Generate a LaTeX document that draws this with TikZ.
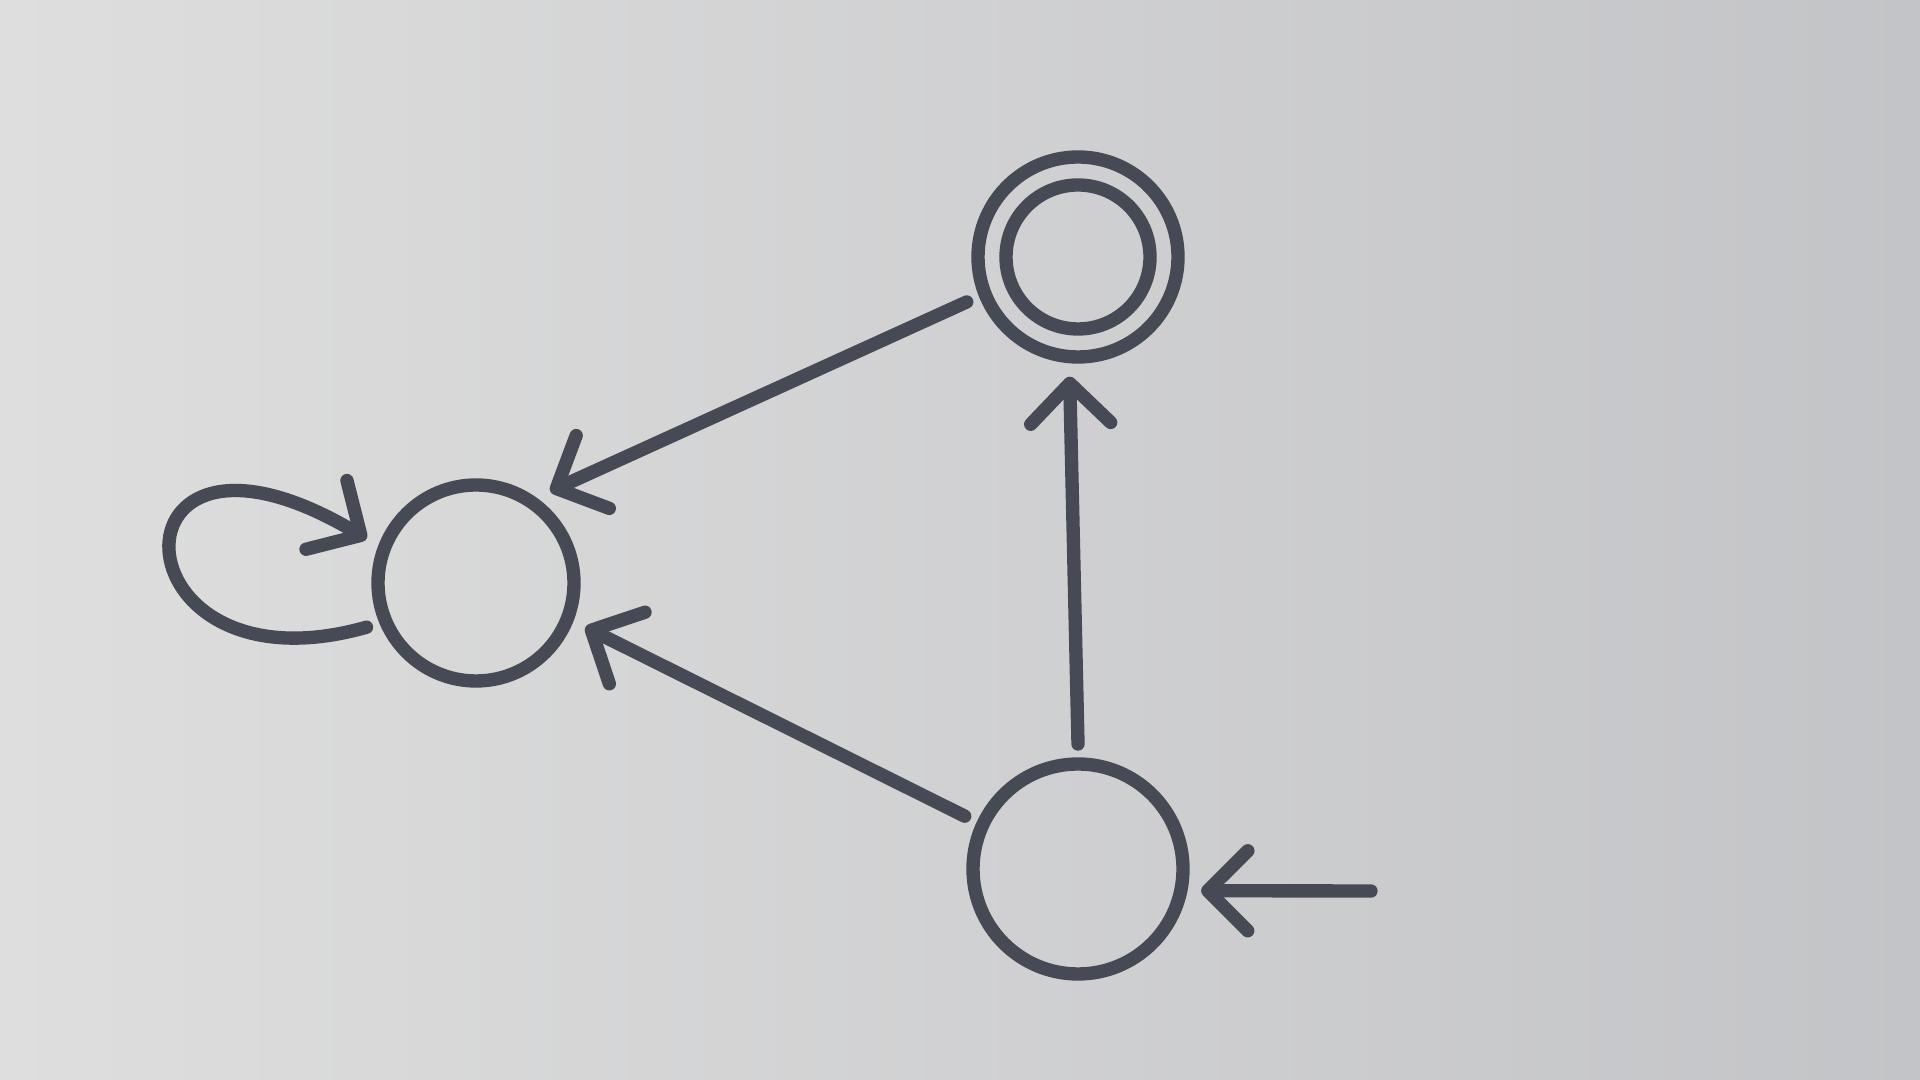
\documentclass[tikz,border=0pt]{standalone}
\usetikzlibrary{arrows.meta}
\definecolor{ink}{HTML}{464A55}
\definecolor{paperl}{HTML}{DEDEDE}
\definecolor{paperr}{HTML}{C3C4C7}
\begin{document}
\begin{tikzpicture}[line width=3.8pt,line cap=round,line join=round,draw=ink,
  state/.style={circle,draw=ink,line width=3.8pt,outer sep=0.2cm},
  arr/.style={ink,-{Straight Barb[round,length=4mm,width=8mm]}}]
\useasboundingbox (0,0) rectangle (19.2,10.8);
\shade[left color=paperl,right color=paperr] (0,0) rectangle (19.2,10.8);
\node[state,minimum size=1.96cm] (q1) at (4.76,4.97) {};
\node[state,minimum size=2cm] (q2) at (10.78,8.23) {};
\draw[ink] (q2.center) circle (0.72);
\node[state,minimum size=2.1cm] (q0) at (10.78,2.11) {};
\coordinate (in) at (13.71,1.89);
\draw[arr] (in) -- (q0.-10);
\draw[arr] (q0.90) -- (q2.266);
\draw[arr] (q0.155) -- (q1.-22);
\draw[arr] (q2.202) -- (q1.51);
\draw[arr] (q1.202) .. controls (1.1,3.8) and (1.0,7.0) .. (q1.158);
\end{tikzpicture}
\end{document}
